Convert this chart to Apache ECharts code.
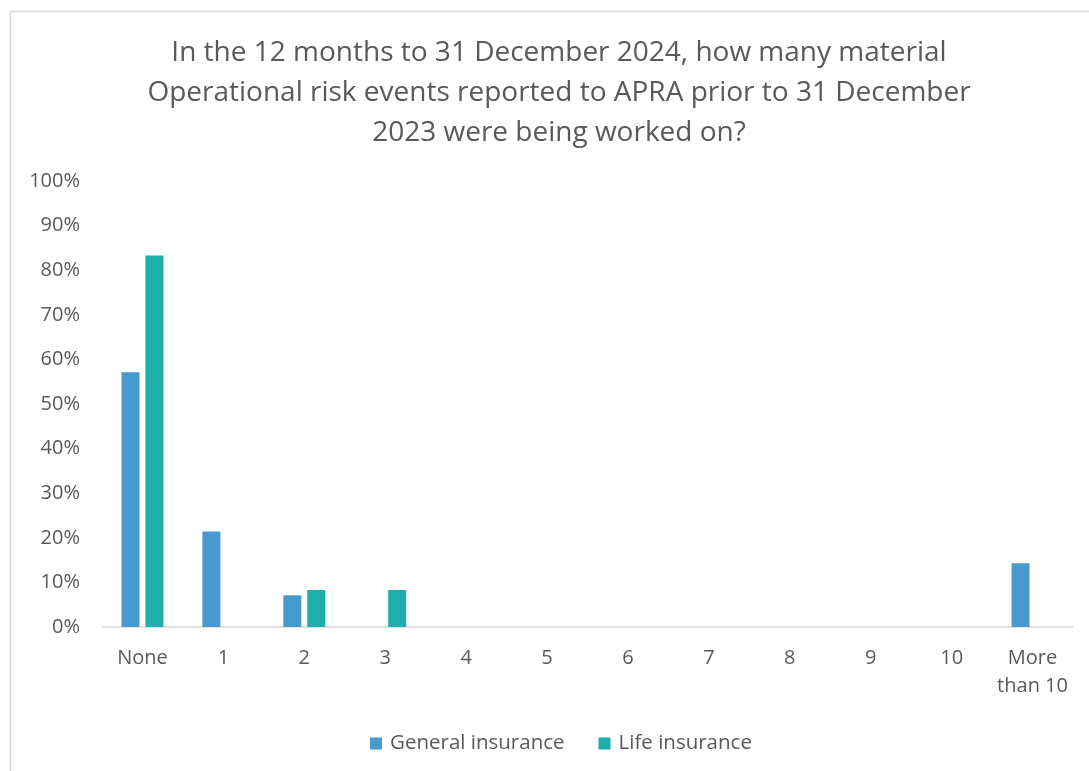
<!DOCTYPE html>
<html>
<head>
<meta charset="utf-8">
<script src="https://cdn.jsdelivr.net/npm/echarts@6/dist/echarts.min.js"></script>
<style>
  html, body { margin: 0; padding: 0; background: #fff; }
  #chart { width: 1089px; height: 771px; }
</style>
</head>
<body>
<div id="chart"></div>
<script>
// Number of open material events, share of respondents (%)
const categories = ['None', '1', '2', '3', '4', '5', '6', '7', '8', '9', '10', 'More\nthan 10'];
const generalInsurance = [57.1, 21.4, 7.1, 0, 0, 0, 0, 0, 0, 0, 0, 14.3];
const lifeInsurance = [83.3, 0, 8.3, 8.3, 0, 0, 0, 0, 0, 0, 0, 0];
const seriesNames = ['General insurance', 'Life insurance'];
const yTicks = { min: 0, max: 100, interval: 10 };

const titleText = 'In the 12 months to 31 December 2024, how many material\nOperational risk events reported to APRA prior to 31 December\n2023 were being worked on?';

const textColor = '#595959';
const fontFamily = '"Open Sans", "Liberation Sans", sans-serif';

const chart = echarts.init(document.getElementById('chart'), null, { renderer: 'canvas' });
chart.setOption({
  backgroundColor: '#ffffff',
  animation: false,
  textStyle: { fontFamily: fontFamily, color: textColor },
  graphic: [{
    type: 'rect',
    shape: { x: 10.5, y: 11.5, width: 1100, height: 800 },
    style: { fill: 'none', stroke: '#d9d9d9', lineWidth: 1.5 },
    silent: true
  }],
  title: {
    text: titleText,
    left: 554,
    top: 28,
    textAlign: 'center',
    textStyle: {
      fontFamily: fontFamily,
      fontSize: 28,
      fontWeight: 'normal',
      color: textColor,
      lineHeight: 40
    }
  },
  legend: {
    data: seriesNames,
    top: 728,
    left: 365,
    padding: 5,
    itemWidth: 12,
    itemHeight: 12,
    itemGap: 34,
    icon: 'rect',
    textStyle: { fontFamily: fontFamily, fontSize: 20.5, color: textColor, padding: [0, 0, 0, 3] }
  },
  grid: { left: 102, right: 16, top: 181, bottom: 144, containLabel: false },
  xAxis: {
    type: 'category',
    data: categories,
    axisLine: { show: true, lineStyle: { color: '#d9d9d9', width: 1.5 } },
    axisTick: { show: false },
    axisLabel: { interval: 0, color: textColor, fontSize: 20, margin: 17, lineHeight: 28, fontFamily: fontFamily }
  },
  yAxis: {
    type: 'value',
    min: yTicks.min,
    max: yTicks.max,
    interval: yTicks.interval,
    axisLine: { show: false },
    axisTick: { show: false },
    splitLine: { show: false },
    axisLabel: { color: textColor, fontSize: 20, margin: 22, formatter: '{value}%', fontFamily: fontFamily }
  },
  series: [
    {
      name: seriesNames[0],
      type: 'bar',
      data: generalInsurance,
      barWidth: 18,
      barGap: '33%',
      itemStyle: { color: '#4899cc' }
    },
    {
      name: seriesNames[1],
      type: 'bar',
      data: lifeInsurance,
      barWidth: 18,
      itemStyle: { color: '#1eaeac' }
    }
  ]
});
</script>
</body>
</html>
